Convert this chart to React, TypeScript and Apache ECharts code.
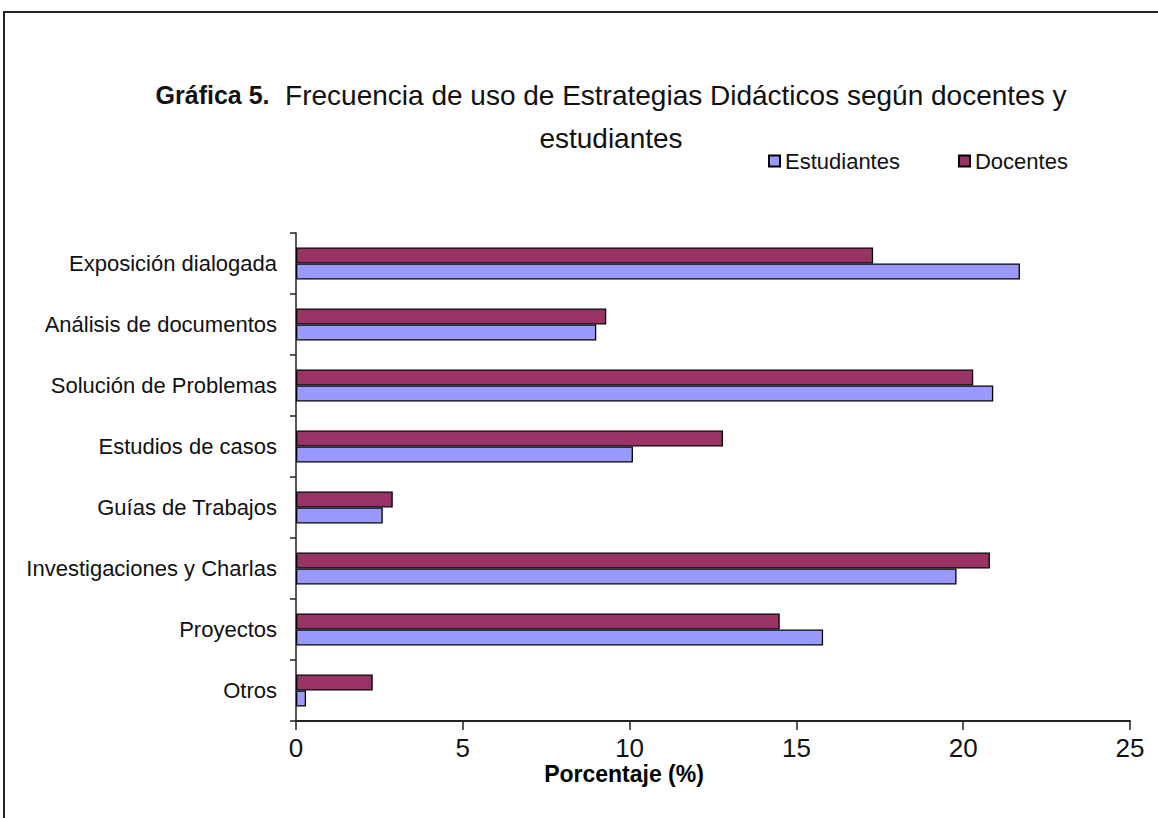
import React, { useEffect, useRef } from "react";
import * as echarts from "echarts";

const categories = [
  "Exposición dialogada",
  "Análisis de documentos",
  "Solución de Problemas",
  "Estudios de casos",
  "Guías de Trabajos",
  "Investigaciones y Charlas",
  "Proyectos",
  "Otros",
];
const estudiantes = [21.7, 9.0, 20.9, 10.1, 2.6, 19.8, 15.8, 0.3];
const docentes = [17.3, 9.3, 20.3, 12.8, 2.9, 20.8, 14.5, 2.3];
const xTicks = { min: 0, max: 25, interval: 5 };

const FONT = "'Liberation Sans', Arial, sans-serif";

export default function App() {
  const ref = useRef<HTMLDivElement>(null);
  useEffect(() => {
    if (!ref.current) return;
    const chart = echarts.init(ref.current, undefined, { renderer: "svg" });
    chart.setOption({
      animation: false,
      backgroundColor: "#ffffff",
      textStyle: { fontFamily: FONT },
      graphic: [
        {
          type: "rect",
          shape: { x: 4, y: 12, width: 1200, height: 900 },
          style: { fill: "none", stroke: "#222", lineWidth: 2 },
          silent: true,
        },
        {
          type: "text",
          x: 611,
          y: 109,
          style: {
            text: "{b|Gráfica 5.}  Frecuencia de uso de Estrategias Didácticos según docentes y",
            textAlign: "center",
            textVerticalAlign: "bottom",
            fontFamily: FONT,
            fontSize: 28,
            fill: "#111",
            rich: {
              b: { fontWeight: "bold", fontSize: 25, fontFamily: FONT, fill: "#111" },
            },
          },
        },
        {
          type: "text",
          x: 611,
          y: 152,
          style: {
            text: "estudiantes",
            textAlign: "center",
            textVerticalAlign: "bottom",
            fontFamily: FONT,
            fontSize: 28,
            fill: "#111",
          },
        },
        {
          type: "text",
          x: 624,
          y: 774,
          style: {
            text: "Porcentaje (%)",
            textAlign: "center",
            textVerticalAlign: "middle",
            fontFamily: FONT,
            fontSize: 23,
            fontWeight: "bold",
            fill: "#000",
          },
        },
      ],
      legend: {
        data: ["Estudiantes", "Docentes"],
        left: 763,
        top: 145,
        icon: "rect",
        itemWidth: 11,
        itemHeight: 11,
        itemGap: 58,
        textStyle: { fontSize: 22, color: "#111", fontFamily: FONT },
      },
      grid: { left: 296, right: 28, top: 233, bottom: 97, containLabel: false },
      xAxis: {
        type: "value",
        min: xTicks.min,
        max: xTicks.max,
        interval: xTicks.interval,
        axisLine: { show: true, lineStyle: { color: "#222", width: 2 } },
        axisTick: { show: true, length: 9, lineStyle: { color: "#222", width: 1.5 } },
        splitLine: { show: false },
        axisLabel: { fontSize: 26, color: "#111", margin: 14, fontFamily: FONT },
      },
      yAxis: {
        type: "category",
        inverse: true,
        data: categories,
        axisLine: { show: true, lineStyle: { color: "#222", width: 1.5 } },
        axisTick: { show: true, length: 6, lineStyle: { color: "#222", width: 1.5 } },
        axisLabel: { fontSize: 22, color: "#111", margin: 19, fontFamily: FONT },
      },
      series: [
        {
          name: "Docentes",
          type: "bar",
          data: docentes,
          barWidth: 16,
          barGap: "0%",
          itemStyle: { color: "#993366", borderColor: "#000", borderWidth: 1.3 },
        },
        {
          name: "Estudiantes",
          type: "bar",
          data: estudiantes,
          barWidth: 16,
          barGap: "0%",
          itemStyle: { color: "#9999ff", borderColor: "#000", borderWidth: 1.3 },
        },
      ],
    });
    return () => chart.dispose();
  }, []);
  return (
    <div
      ref={ref}
      style={{ position: "absolute", left: 0, top: 0, width: 1158, height: 818 }}
    />
  );
}
